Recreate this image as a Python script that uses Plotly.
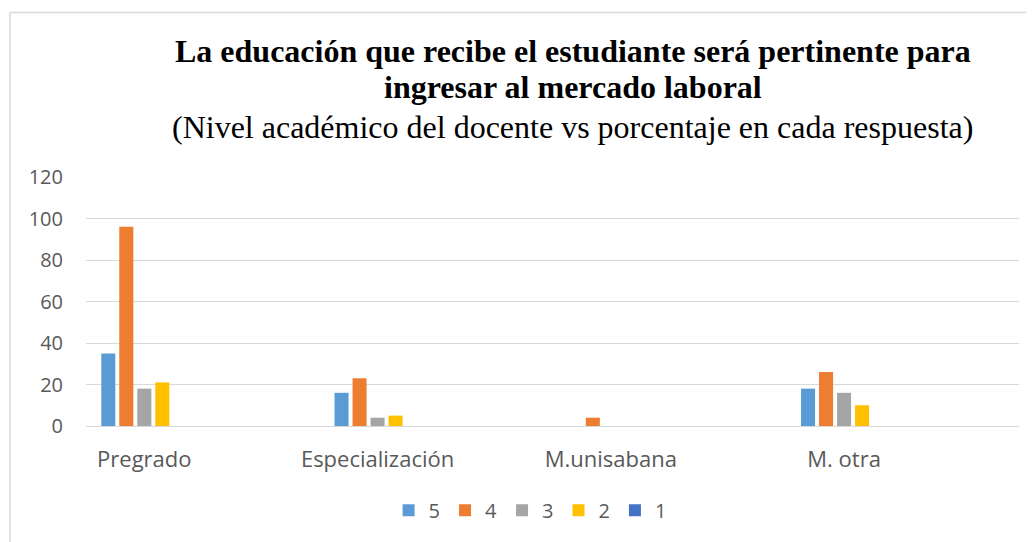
import plotly.graph_objects as go

# niveles academicos del docente
categorias = ["Pregrado", "Especialización", "M.unisabana", "M. otra"]

# porcentaje por respuesta (5 = mas alto)
resp_5 = [35, 16, 0, 18]
resp_4 = [96, 23, 4, 26]
resp_3 = [18, 4, 0, 16]
resp_2 = [21, 5, 0, 10]
resp_1 = [0, 0, 0, 0]

series = [("5", resp_5, "#5B9BD5"), ("4", resp_4, "#ED7D31"), ("3", resp_3, "#A5A5A5"),
          ("2", resp_2, "#FFC000"), ("1", resp_1, "#4472C4")]

fig = go.Figure()
for nombre, vals, color in series:
    fig.add_trace(go.Bar(x=categorias, y=vals, name=nombre, marker_color=color,
                         marker_line_width=0))

gris = "#595959"
# la pagina tiene 8px de margen en el body
fig.update_layout(
    width=1026, height=534,
    margin=dict(l=78, r=15, t=169, b=114),
    plot_bgcolor="white", paper_bgcolor="white",
    barmode="group", bargap=0.614, bargroupgap=0.22,
    font=dict(family="Open Sans", size=19, color=gris),
    showlegend=True,
    legend=dict(orientation="h", x=0.476, xanchor="center", y=-0.26, yanchor="top",
                font=dict(size=20, color=gris), traceorder="normal"),
)
fig.update_xaxes(range=[-0.25, 3.75], showgrid=False, showline=False, ticks="",
                 ticklabelstandoff=18, tickfont=dict(size=22, color=gris))
fig.update_yaxes(range=[0, 120], dtick=20, showgrid=True, gridcolor="#D9D9D9", gridwidth=1.3,
                 zeroline=True, zerolinecolor="#D9D9D9", zerolinewidth=1.3,
                 showline=False, ticks="", ticklabelstandoff=22,
                 tickfont=dict(size=20, color=gris))

# titulo y subtitulo
fuente_titulo = dict(family="Liberation Serif", size=32, color="black")
fig.add_annotation(text="<b>La educación que recibe el estudiante será pertinente para</b>",
                   xref="paper", yref="paper", x=0.5215, y=1.506, xanchor="center", yanchor="middle",
                   showarrow=False, font=fuente_titulo)
fig.add_annotation(text="<b>ingresar al mercado laboral</b>",
                   xref="paper", yref="paper", x=0.5215, y=1.3625, xanchor="center", yanchor="middle",
                   showarrow=False, font=fuente_titulo)
fig.add_annotation(text="(Nivel académico del docente vs porcentaje en cada respuesta)",
                   xref="paper", yref="paper", x=0.5215, y=1.2, xanchor="center", yanchor="middle",
                   showarrow=False, font=fuente_titulo)

# borde del grafico
fig.add_shape(type="line", xref="paper", yref="paper", x0=-0.0815, x1=1.1, y0=1.661, y1=1.661,
              line=dict(color="#D9D9D9", width=1.5))
fig.add_shape(type="line", xref="paper", yref="paper", x0=-0.0815, x1=-0.0815, y0=1.661, y1=-0.6,
              line=dict(color="#D9D9D9", width=1.5))

fig.write_html("out.html")
